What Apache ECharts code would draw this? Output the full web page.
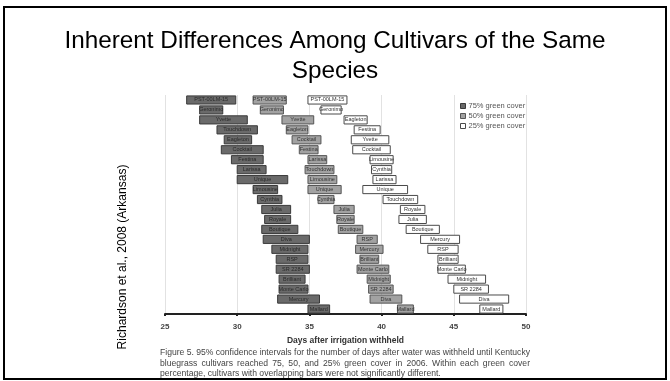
<!DOCTYPE html>
<html><head><meta charset="utf-8">
<script src="https://cdn.jsdelivr.net/npm/echarts@6/dist/echarts.min.js"></script>
<style>html,body{margin:0;padding:0;background:#fff}#c{width:670px;height:381px}</style>
</head><body><div id="c"></div>
<script>
var titleText = 'Inherent Differences Among Cultivars of the Same\nSpecies';
var sideText = 'Richardson et al., 2008 (Arkansas)';
var axisTitle = 'Days after irrigation withheld';
var captionLines = [
  'Figure 5. 95% confidence intervals for the number of days after water was withheld until Kentucky',
  'bluegrass cultivars reached 75, 50, and 25% green cover in 2006. Within each green cover',
  'percentage, cultivars with overlapping bars were not significantly different.'
];
var groupNames = ['75% green cover', '50% green cover', '25% green cover'];
var xTicks = [25, 30, 35, 40, 45, 50];

var cult75 = ['PST-00LM-15','Geronimo','Yvette','Touchdown','Eagleton','Cocktail','Festina','Larissa','Unique','Limousine','Cynthia','Julia','Royale','Boutique','Diva','Midnight','RSP','SR 2284','Brilliant','Monte Carlo','Mercury','Mallard'];
var lo75 = [26.5,27.4,27.4,28.6,29.1,28.9,29.6,30.0,30.0,31.1,31.4,31.7,31.9,31.7,31.8,32.4,32.7,32.7,32.9,32.9,32.8,34.9];
var hi75 = [29.9,29.0,30.7,31.4,31.0,31.8,31.8,32.0,33.5,32.8,33.1,33.7,33.7,34.2,35.0,34.9,34.9,35.0,34.7,34.9,35.7,36.4];

var cult50 = ['PST-00LM-15','Geronimo','Yvette','Eagleton','Cocktail','Festina','Larissa','Touchdown','Limousine','Unique','Cynthia','Julia','Royale','Boutique','RSP','Mercury','Brilliant','Monte Carlo','Midnight','SR 2284','Diva','Mallard'];
var lo50 = [31.1,31.6,33.1,33.4,33.8,34.3,34.9,34.7,34.9,34.9,35.6,36.7,36.9,37.0,38.3,38.2,38.5,38.3,39.0,39.1,39.2,41.1];
var hi50 = [33.4,33.2,35.3,34.9,35.8,35.6,36.2,36.7,36.9,37.2,36.7,38.1,38.1,38.7,39.7,40.1,39.8,40.5,40.6,40.8,41.4,42.2];

var cult25 = ['PST-00LM-15','Geronimo','Eagleton','Festina','Yvette','Cocktail','Limousine','Cynthia','Larissa','Unique','Touchdown','Royale','Julia','Boutique','Mercury','RSP','Brilliant','Monte Carlo','Midnight','SR 2284','Diva','Mallard'];
var lo25 = [34.9,35.8,37.4,38.1,37.9,38.0,39.2,39.3,39.4,38.7,40.1,41.3,41.2,41.7,42.7,43.2,43.9,43.9,44.6,45.0,45.4,46.8];
var hi25 = [37.6,37.2,39.0,39.9,40.5,40.6,40.8,40.7,41.0,41.8,42.5,43.0,43.1,44.0,45.4,45.3,45.3,45.8,47.2,47.4,48.8,48.4];

var styles = [
  {fill:'#6a6a6a', stroke:'#3a3a3a', text:'#2a2a2a'},
  {fill:'#a2a2a2', stroke:'#555555', text:'#333333'},
  {fill:'#ffffff', stroke:'#4a4a4a', text:'#333333'}
];

function build(names, lo, hi) {
  return names.map(function (n, i) { return [i, lo[i], hi[i]]; });
}
function makeRender(names, st) {
  return function (params, api) {
    var row = api.value(0), a = api.value(1), b = api.value(2);
    var p1 = api.coord([a, row]);
    var p2 = api.coord([b, row]);
    var h = api.size([0, 1])[1] * 0.82;
    return {
      type: 'group',
      children: [
        {type:'rect', shape:{x:p1[0], y:p1[1]-h/2, width:p2[0]-p1[0], height:h},
         style:{fill:st.fill, stroke:st.stroke, lineWidth:1}},
        {type:'text', style:{text:names[params.dataIndex], x:(p1[0]+p2[0])/2, y:p1[1],
         align:'center', verticalAlign:'middle', fontSize:5.5, fontFamily:'Liberation Sans', fill:st.text}}
      ]
    };
  };
}
var groups = [[cult75, lo75, hi75], [cult50, lo50, hi50], [cult25, lo25, hi25]];
var series = groups.map(function (g, k) {
  return {
    type: 'custom', name: groupNames[k],
    renderItem: makeRender(g[0], styles[k]),
    encode: {x: [1, 2], y: 0},
    itemStyle: {color: styles[k].fill, borderColor: styles[k].stroke, borderWidth: 1},
    data: build(g[0], g[1], g[2]),
    clip: false
  };
});

// justified caption layout (text layout only)
var capFont = '8.6px "Liberation Sans"';
var capLeft = 160, capWidth = 370, capY = [353, 363.5, 374];
var mctx = document.createElement('canvas').getContext('2d');
mctx.font = capFont;
var captionGraphics = [];
captionLines.forEach(function (line, li) {
  var words = line.split(' ');
  var justify = li < captionLines.length - 1;
  var total = 0;
  words.forEach(function (w) { total += mctx.measureText(w).width; });
  var gap = justify ? (capWidth - total) / (words.length - 1) : mctx.measureText(' ').width;
  var x = capLeft;
  words.forEach(function (w) {
    captionGraphics.push({type:'text', x:x, y:capY[li],
      style:{text:w, verticalAlign:'middle', font: capFont, fill:'#444'}});
    x += mctx.measureText(w).width + gap;
  });
});

var chart = echarts.init(document.getElementById('c'), null, {renderer:'canvas'});
chart.setOption({
  animation: false,
  backgroundColor: '#ffffff',
  title: {
    text: titleText, left: 'center', top: 21,
    textStyle: {fontSize: 24.3, lineHeight: 30, fontWeight: 'normal', color: '#000', fontFamily: 'Liberation Sans'}
  },
  grid: {left: 165, right: 144, top: 95, bottom: 67},
  legend: {
    orient: 'vertical', left: 460, top: 102, padding: 0, itemWidth: 5, itemHeight: 5, itemGap: 2,
    icon: 'rect',
    textStyle: {fontSize: 7.5, color: '#555', fontFamily: 'Liberation Sans', padding: [0,0,0,-2]},
    data: groupNames.map(function (n, k) {
      return {name: n, itemStyle: {color: styles[k].fill, borderColor: styles[k].stroke, borderWidth: 1}};
    })
  },
  xAxis: {
    type: 'value', position: 'bottom', min: xTicks[0], max: xTicks[xTicks.length-1], interval: 5,
    name: axisTitle, nameLocation: 'middle', nameGap: 19,
    nameTextStyle: {fontSize: 8.5, fontWeight: 'bold', color: '#333', fontFamily: 'Liberation Sans'},
    axisLine: {onZero: false, lineStyle: {color: '#222', width: 2}},
    axisTick: {length: 2, lineStyle: {color: '#222', width: 2}},
    axisLabel: {fontSize: 8, fontWeight: 'bold', color: '#444', margin: 9, fontFamily: 'Liberation Sans'},
    splitLine: {show: true, lineStyle: {color: '#e2e2e2', width: 1}}
  },
  yAxis: {type: 'value', min: -0.5, max: 21.5, inverse: true, show: false},
  series: series,
  graphic: [
    {type:'rect', shape:{x:4, y:7, width:662, height:372}, style:{fill:'none', stroke:'#000', lineWidth:2}, z:100},
    {type:'text', x:123, y:257, rotation: Math.PI/2,
     style:{text: sideText, align:'center', verticalAlign:'middle', fontSize:12, fill:'#000', fontFamily:'Liberation Sans'}}
  ].concat(captionGraphics)
});
</script></body></html>
